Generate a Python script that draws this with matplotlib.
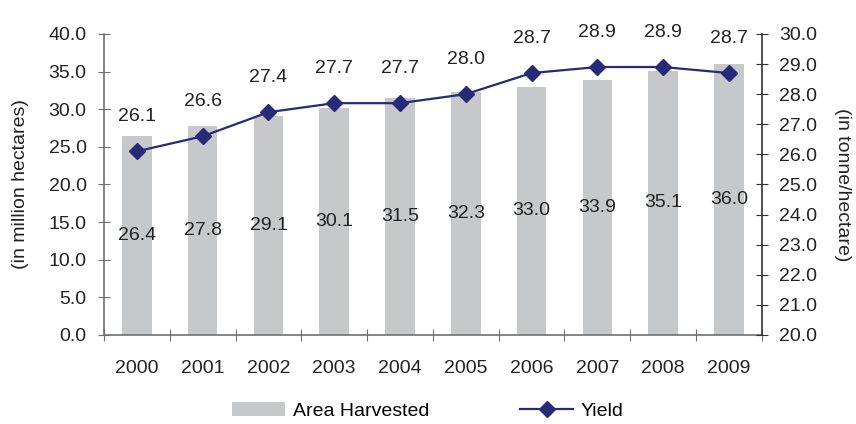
import matplotlib
matplotlib.use('Agg')
import matplotlib.pyplot as plt
from matplotlib.lines import Line2D
from matplotlib.patches import Patch
import numpy as np

years = ['2000', '2001', '2002', '2003', '2004', '2005', '2006', '2007', '2008', '2009']
area_harvested = [26.4, 27.8, 29.1, 30.1, 31.5, 32.3, 33.0, 33.9, 35.1, 36.0]
yield_t_ha = [26.1, 26.6, 27.4, 27.7, 27.7, 28.0, 28.7, 28.9, 28.9, 28.7]

BAR_COLOR = '#c7c8ca'
LINE_COLOR = '#262a78'
AXIS_GREY = '#707070'
TEXT = '#222222'
FS = 14

plt.rcParams['font.family'] = ['Liberation Sans', 'DejaVu Sans']
plt.rcParams['font.size'] = FS

fig = plt.figure(figsize=(8.56, 4.24), dpi=100)
ax = fig.add_axes([0.1215, 0.21, 0.7685, 0.71])
ax2 = ax.twinx()

x = np.arange(len(years))

# bars on the left axis, value printed at mid-height
ax.bar(x, area_harvested, width=0.45, color=BAR_COLOR, zorder=1)
for xi, v in zip(x, area_harvested):
    ax.text(xi, v / 2, f'{v:.1f}', ha='center', va='center', color=TEXT, fontsize=FS)

ax.set_xlim(-0.5, len(years) - 0.5)
ax.set_ylim(0, 40)
ax.set_yticks(np.arange(0, 41, 5))
ax.set_yticklabels([f'{t:.1f}' for t in np.arange(0, 41, 5)])
ax.set_xticks(np.arange(-0.5, len(years)), labels=[''] * (len(years) + 1))
ax.set_xticks(x, labels=years, minor=True)
ax.tick_params(axis='x', which='major', direction='inout', length=9, color=AXIS_GREY)
ax.tick_params(axis='x', which='minor', length=0, pad=18, labelcolor=TEXT)
ax.tick_params(axis='y', direction='inout', length=9, color=AXIS_GREY, pad=8, labelcolor=TEXT)
ax.set_ylabel('(in million hectares)', color=TEXT, labelpad=14)

for side in ['top', 'right']:
    ax.spines[side].set_visible(False)
ax.spines['left'].set_color(AXIS_GREY)
ax.spines['bottom'].set_color(AXIS_GREY)
ax.spines['left'].set_linewidth(1.2)
ax.spines['bottom'].set_linewidth(1.2)

# yield line on the right axis
ax2.plot(x, yield_t_ha, color=LINE_COLOR, linewidth=1.6, marker='D', markersize=8.5,
         markerfacecolor=LINE_COLOR, markeredgecolor=LINE_COLOR, zorder=3)
for xi, v in zip(x, yield_t_ha):
    ax2.annotate(f'{v:.1f}', (xi, v), xytext=(0, 25), textcoords='offset points',
                 ha='center', va='center', color=TEXT, fontsize=FS)
ax2.set_ylim(20, 30)
ax2.set_yticks(np.arange(20, 31, 1))
ax2.set_yticklabels([f'{t:.1f}' for t in np.arange(20, 31, 1)])
ax2.tick_params(axis='y', direction='inout', length=9, color='#333333', pad=8, labelcolor=TEXT)
ax2.set_ylabel('(in tonne/hectare)', rotation=270, labelpad=24, color=TEXT)
for side in ['top', 'left', 'bottom']:
    ax2.spines[side].set_visible(False)
ax2.spines['right'].set_color('#333333')
ax2.spines['right'].set_linewidth(1.2)

handles = [
    Patch(facecolor=BAR_COLOR, edgecolor='none', label='Area Harvested'),
    Line2D([0], [0], color=LINE_COLOR, linewidth=1.6, marker='D', markersize=8.5,
           label='Yield'),
]
fig.legend(handles=handles, loc='center', bbox_to_anchor=(0.5, 0.03), ncol=2,
           frameon=False, columnspacing=4.7, handlelength=2.7, handletextpad=0.4,
           fontsize=FS)

fig.savefig('out.png', dpi=100)
